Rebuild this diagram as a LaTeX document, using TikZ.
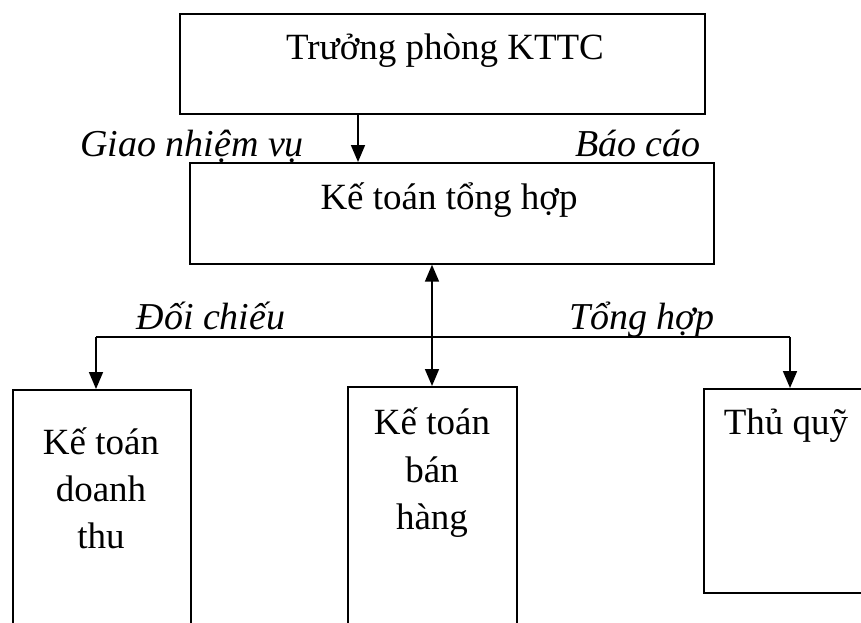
\documentclass[tikz,border=0pt]{standalone}
\usepackage{fontspec}
\setmainfont{Liberation Serif}
\usetikzlibrary{arrows.meta}
\tikzset{
  box/.style={draw, line width=1.7pt, rectangle, inner sep=0pt, anchor=north west},
  lbl/.style={font=\fontsize{37}{44}\selectfont, anchor=base, inner sep=0pt},
  tag/.style={font=\fontsize{38}{44}\selectfont\itshape, anchor=base, inner sep=0pt},
  wire/.style={line width=1.7pt},
  arr/.style={line width=1.7pt, -{Triangle[width=14pt,length=17pt]}},
  darr/.style={line width=1.7pt, {Triangle[width=14pt,length=17pt]}-{Triangle[width=14pt,length=17pt]}}
}
\begin{document}
\begin{tikzpicture}[x=1pt,y=-1pt]
\useasboundingbox (0,0) rectangle (861,623);
\clip (0,0) rectangle (861,623);
\fill[white] (0,0) rectangle (861,623);

% boxes
\node[box, minimum width=525pt, minimum height=100pt] (chief) at (179,13) {};
\node[box, minimum width=524pt, minimum height=101pt] (general) at (189,162) {};
\node[box, minimum width=178pt, minimum height=280pt] (revenue) at (12,389) {};
\node[box, minimum width=169pt, minimum height=280pt] (sales) at (347,386) {};
\node[box, minimum width=220pt, minimum height=204pt] (cashier) at (703,388) {};

% box texts
\node[lbl] (tchief) at (445,60) {Trưởng phòng KTTC};
\node[lbl] (tgeneral) at (449,209) {Kế toán tổng hợp};
\node[lbl] (trev1) at (101,454) {Kế toán};
\node[lbl] (trev2) at (101,501) {doanh};
\node[lbl] (trev3) at (101,548) {thu};
\node[lbl] (tsal1) at (432,434) {Kế toán};
\node[lbl] (tsal2) at (432,482) {bán};
\node[lbl] (tsal3) at (432,529) {hàng};
\node[lbl] (tcash) at (786,434) {Thủ quỹ};

% edge labels
\node[tag] (assign) at (192,156) {Giao nhiệm vụ};
\node[tag] (report) at (638,156) {Báo cáo};
\node[tag] (compare) at (211,329) {Đối chiếu};
\node[tag] (sum) at (642,329) {Tổng hợp};

% connectors
\coordinate (c1) at (358,0);
\coordinate (c2) at (432,0);
\coordinate (jl) at (96,337);
\coordinate (jr) at (790,337);
\draw[arr] (chief.south -| c1) -- (general.north -| c1);
\draw[darr] (general.south -| c2) -- (sales.north -| c2);
\draw[wire] (jl) -- (jr);
\draw[arr] (jl) -- (revenue.north -| jl);
\draw[arr] (jr) -- (cashier.north -| jr);
\end{tikzpicture}
\end{document}
